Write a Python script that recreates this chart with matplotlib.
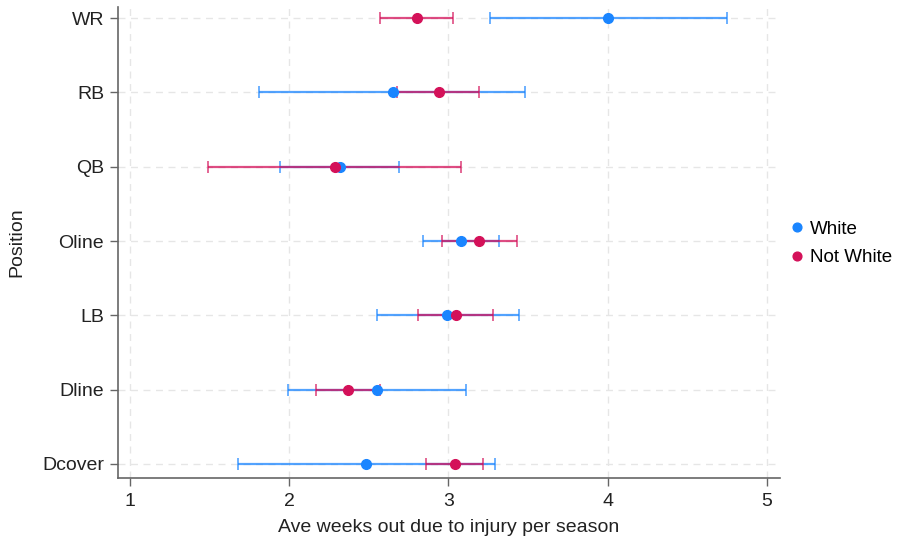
import matplotlib
matplotlib.use("Agg")
import matplotlib.pyplot as plt
import numpy as np

positions = ["Dcover", "Dline", "LB", "Oline", "QB", "RB", "WR"]

white_mean = [2.48, 2.55, 2.99, 3.08, 2.32, 2.65, 4.00]
white_lo   = [1.68, 1.99, 2.55, 2.84, 1.94, 1.81, 3.26]
white_hi   = [3.29, 3.11, 3.44, 3.32, 2.69, 3.48, 4.75]

nw_mean = [3.04, 2.37, 3.05, 3.19, 2.29, 2.94, 2.80]
nw_lo   = [2.86, 2.17, 2.81, 2.96, 1.49, 2.68, 2.57]
nw_hi   = [3.22, 2.57, 3.28, 3.43, 3.08, 3.19, 3.03]

xticks = [1, 2, 3, 4, 5]

blue = "#1A85FF"
red = "#D41159"

plt.rcParams['font.family'] = ['Liberation Sans', 'DejaVu Sans']

fig = plt.figure(figsize=(9.04, 5.42), dpi=100)
ax = fig.add_axes([0.1305, 0.118, 0.732, 0.869])

y = np.arange(len(positions))

def draw(mean, lo, hi, color, label, z):
    mean = np.array(mean); lo = np.array(lo); hi = np.array(hi)
    ax.errorbar(mean, y, xerr=[mean - lo, hi - mean], fmt='none',
                ecolor=color, elinewidth=1.6, capsize=4, capthick=1.2,
                alpha=0.75, zorder=z)
    ax.plot(mean, y, 'o', color=color, markersize=7, label=label, zorder=z + 2)

draw(white_mean, white_lo, white_hi, blue, "White", 3)
draw(nw_mean, nw_lo, nw_hi, red, "Not White", 4)

ax.set_xlim(0.925, 5.08)
ax.set_ylim(-0.19, 6.15)
ax.set_yticks(y)
ax.set_yticklabels(positions)
ax.set_xticks(xticks)
ax.set_xticklabels([str(t) for t in xticks])

ax.grid(True, linestyle=(0, (5, 4)), color="#e6e6e6", linewidth=1.0, zorder=0)
ax.set_axisbelow(True)

for s in ["top", "right"]:
    ax.spines[s].set_visible(False)
for s in ["left", "bottom"]:
    ax.spines[s].set_color("#666666")
    ax.spines[s].set_linewidth(1.2)

ax.tick_params(axis='both', colors="#666666", labelcolor="#222222",
               labelsize=14, length=6, width=1.0)
ax.tick_params(axis='x', pad=5)
ax.tick_params(axis='y', pad=4)

ax.set_xlabel("Ave weeks out due to injury per season", fontsize=14,
              color="#222222", labelpad=6)
ax.set_ylabel("Position", fontsize=14, color="#222222", labelpad=12)

leg = fig.legend(loc='center left', bbox_to_anchor=(0.853, 0.551), frameon=False,
                 fontsize=13.5, handletextpad=0.15, handlelength=1.0,
                 labelspacing=0.6, markerscale=0.9)

fig.savefig("out.png", dpi=100)
